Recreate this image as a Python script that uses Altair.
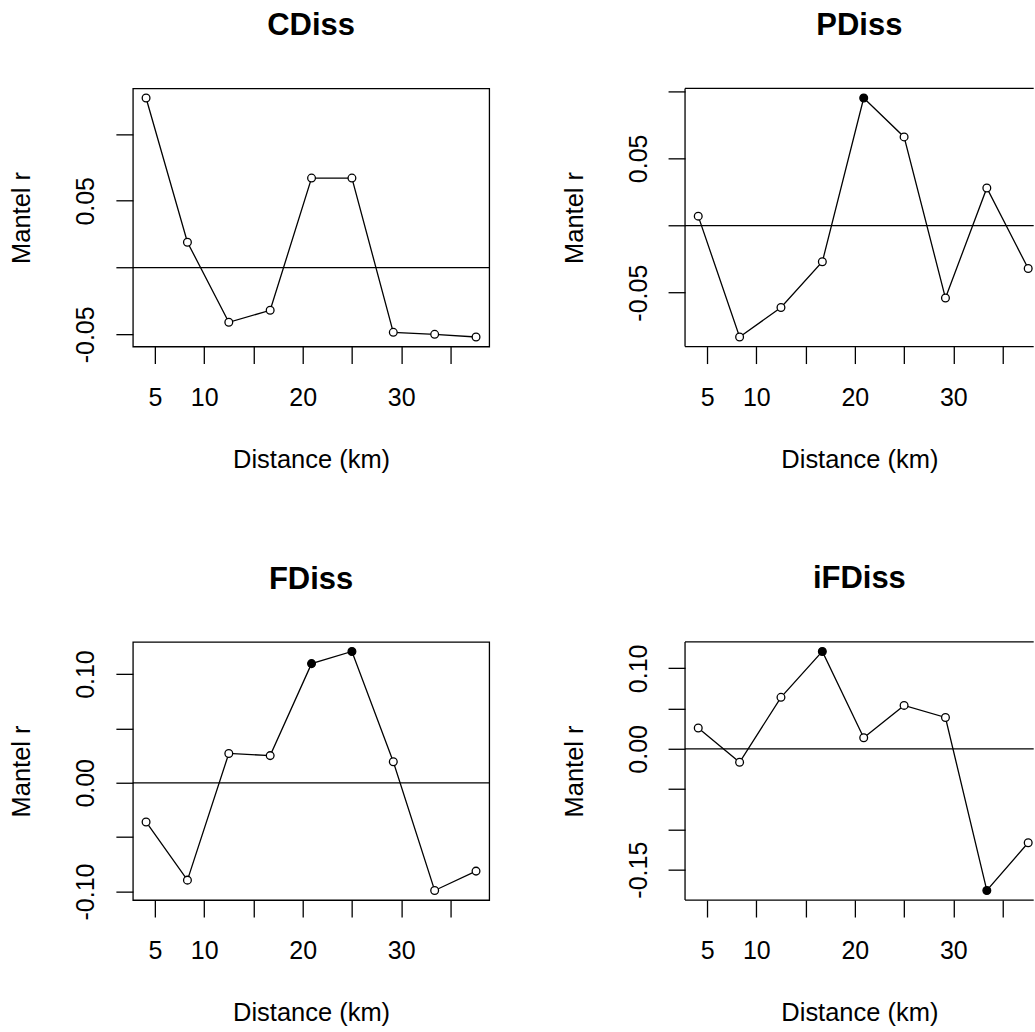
import altair as alt
import pandas as pd

# ---- data ----
distance_km = [4.1, 8.3, 12.5, 16.7, 20.9, 25.0, 29.2, 33.4, 37.6]

panel_titles = ["CDiss", "PDiss", "FDiss", "iFDiss"]

cdiss_r = [0.127, 0.019, -0.041, -0.032, 0.067, 0.067, -0.0485, -0.050, -0.052]
pdiss_r = [0.007, -0.083, -0.061, -0.027, 0.095, 0.066, -0.054, 0.028, -0.032]
fdiss_r = [-0.036, -0.0895, 0.027, 0.025, 0.1096, 0.1208, 0.0194, -0.099, -0.0812]
ifdiss_r = [0.026, -0.0166, 0.064, 0.121, 0.0138, 0.054, 0.039, -0.1758, -0.1166]

cdiss_sig = [False, False, False, False, False, False, False, False, False]
pdiss_sig = [False, False, False, False, True, False, False, False, False]
fdiss_sig = [False, False, False, False, True, True, False, False, False]
ifdiss_sig = [False, False, False, True, False, False, False, True, False]

x_tick_values = [5, 10, 15, 20, 25, 30, 35]
x_tick_labels = [5, 10, 20, 30]

y_tick_values = [
    [-0.05, 0.0, 0.05, 0.10],
    [-0.05, 0.0, 0.05, 0.10],
    [-0.10, -0.05, 0.0, 0.05, 0.10],
    [-0.15, -0.10, -0.05, 0.0, 0.05, 0.10],
]
y_tick_labels = [
    ["0.05", "-0.05"],
    ["0.05", "-0.05"],
    ["0.10", "0.00", "-0.10"],
    ["0.10", "0.00", "-0.15"],
]

series = [cdiss_r, pdiss_r, fdiss_r, ifdiss_r]
sigs = [cdiss_sig, pdiss_sig, fdiss_sig, ifdiss_sig]

FONT = "Liberation Sans"
W, H = 356.7, 258.4        # full panel plot size
W_RIGHT = 349.0            # right column is cut by the page edge


def expanded(vals):
    lo, hi = min(vals), max(vals)
    pad = 0.04 * (hi - lo)
    return [lo - pad, hi + pad]


xdom = expanded(distance_km)
xdom_right = [xdom[0], xdom[0] + (xdom[1] - xdom[0]) * W_RIGHT / W]


def panel(i):
    right = (i % 2 == 1)
    width = W_RIGHT if right else W
    xd = xdom_right if right else xdom
    df = pd.DataFrame({
        "d": distance_km,
        "r": series[i],
        "fc": ["black" if s else "white" for s in sigs[i]],
    })
    ydom = expanded(series[i])
    shown = "[" + ",".join("'%s'" % s for s in y_tick_labels[i]) + "]"
    fmt = "replace(format(datum.value, '.2f'), '\u2212', '-')"
    ylab = "indexof(%s, %s) >= 0 ? %s : ''" % (shown, fmt, fmt)
    xlab = "indexof(%s, datum.value) >= 0 ? datum.label : ''" % (
        "[" + ",".join(str(v) for v in x_tick_labels) + "]")

    xenc = alt.X(
        "d:Q",
        scale=alt.Scale(domain=xd, nice=False, zero=False),
        axis=alt.Axis(
            values=x_tick_values, labelExpr=xlab, title="Distance (km)",
            grid=False, domain=False, tickSize=17, tickColor="black",
            tickWidth=1.3, labelFontSize=25, labelFont=FONT,
            labelColor="black", labelPadding=22, labelBaseline="top",
            labelOverlap=False, labelFlush=False, labelBound=False,
            titleFontSize=25.5, titleFont=FONT, titleFontWeight="normal",
            titleColor="black", titlePadding=37,
        ),
    )
    yenc = alt.Y(
        "r:Q",
        scale=alt.Scale(domain=ydom, nice=False, zero=False),
        axis=alt.Axis(
            values=y_tick_values[i], labelExpr=ylab, title="Mantel r",
            grid=False, domain=False, tickSize=17, tickColor="black",
            tickWidth=1.3, labelFontSize=25, labelFont=FONT,
            labelColor="black", labelAngle=270, labelAlign="center",
            labelBaseline="alphabetic", labelPadding=22,
            labelOverlap=False, labelFlush=False, labelBound=False,
            titleFontSize=25.5, titleFont=FONT, titleFontWeight="normal",
            titleColor="black", titleBaseline="alphabetic", titlePadding=44,
        ),
    )
    base = alt.Chart(df)
    line = base.mark_line(color="black", strokeWidth=1.3).encode(x=xenc, y=yenc)
    pts = base.mark_point(shape="circle", size=60, strokeWidth=1.3,
                          opacity=1, filled=False, stroke="black").encode(
        x="d:Q", y="r:Q", fill=alt.Fill("fc:N", scale=None))
    zero = alt.Chart(pd.DataFrame({"r": [0.0]})).mark_rule(
        color="black", strokeWidth=1.3).encode(y="r:Q")
    layers = [line, zero, pts]
    props = {}
    if right:
        # frame without the right edge (it lies beyond the page)
        frame = alt.Chart(pd.DataFrame({"r": [0.0]}))
        top = frame.mark_rule(color="black", strokeWidth=1.3).encode(
            y=alt.datum(ydom[1]))
        bottom = frame.mark_rule(color="black", strokeWidth=1.3).encode(
            y=alt.datum(ydom[0]))
        left = frame.mark_rule(color="black", strokeWidth=1.3).encode(
            x=alt.datum(xd[0]))
        layers += [top, bottom, left]
        props["view"] = alt.ViewBackground(stroke=None, fill="white")
    return alt.layer(*layers).properties(
        width=width, height=H,
        title=alt.TitleParams(
            panel_titles[i], fontSize=31, fontWeight="bold", font=FONT,
            color="black", anchor="middle", frame="group",
            baseline="alphabetic", offset=22,
        ),
        **props,
    )


chart = alt.concat(
    *[panel(i) for i in range(4)],
    columns=2,
    spacing={"row": 295, "column": 195.7},
    bounds="flush",
).properties(
    padding={"left": 9, "top": 9, "right": 0, "bottom": 0},
    background="white",
).configure_view(stroke="black", strokeWidth=1.3, fill="white")

chart.save("out.html", embed_options={"renderer": "svg", "actions": False})
